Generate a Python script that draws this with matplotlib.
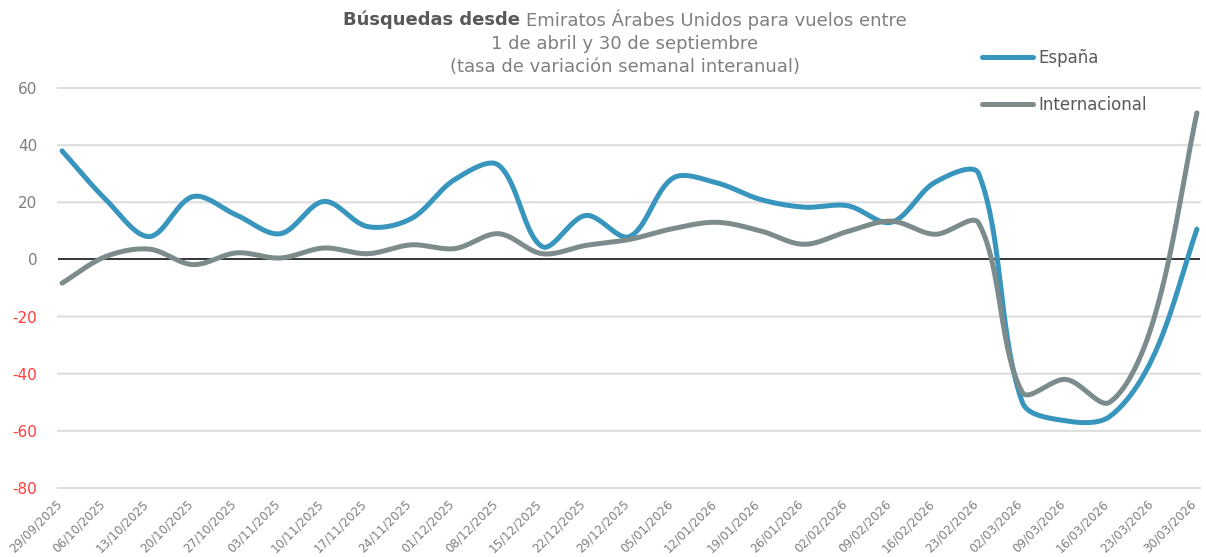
import matplotlib
matplotlib.use('Agg')
import matplotlib.pyplot as plt
from matplotlib.transforms import ScaledTranslation
import numpy as np

fechas = ['29/09/2025', '06/10/2025', '13/10/2025', '20/10/2025', '27/10/2025',
          '03/11/2025', '10/11/2025', '17/11/2025', '24/11/2025', '01/12/2025',
          '08/12/2025', '15/12/2025', '22/12/2025', '29/12/2025', '05/01/2026',
          '12/01/2026', '19/01/2026', '26/01/2026', '02/02/2026', '09/02/2026',
          '16/02/2026', '23/02/2026', '02/03/2026', '09/03/2026', '16/03/2026',
          '23/03/2026', '30/03/2026']

espana = [38, 21, 8, 22, 15.5, 9, 20.3, 11.5, 14.3, 28, 33,
          4.5, 15.4, 8, 28.5, 26.8, 21, 18.3, 18.8, 13, 27, 30,
          -50, -56.5, -55, -34, 10.6]

internacional = [-8.3, 1, 3.6, -1.8, 2.3, 0.5, 4, 2, 5.1, 3.8, 9,
                 2, 4.9, 7, 10.8, 13, 10, 5.3, 9.8, 13.4, 8.8, 12.7,
                 -46.5, -42, -50, -21.5, 51.3]

yticks = [60, 40, 20, 0, -20, -40, -60, -80]

azul = '#3795be'
gris = '#7c8c8c'


def suavizar(ys, sx=43.65, sy=2.857, n=40):
    # curva suavizada tipo Excel (bezier con tangentes ponderadas)
    P = np.column_stack([np.arange(len(ys)) * sx, np.array(ys, float) * sy])
    m = len(P)
    xs, yy = [], []
    for i in range(m - 1):
        p0 = P[max(i - 1, 0)]
        p1 = P[i]
        p2 = P[i + 1]
        p3 = P[min(i + 2, m - 1)]
        d01 = np.hypot(*(p1 - p0))
        d12 = np.hypot(*(p2 - p1))
        d23 = np.hypot(*(p3 - p2))
        c1 = p1 + (p2 - p0) * d12 / (d01 + d12) / 3
        c2 = p2 - (p3 - p1) * d12 / (d12 + d23) / 3
        t = np.linspace(0, 1, n)[:, None]
        b = (1 - t) ** 3 * p1 + 3 * (1 - t) ** 2 * t * c1 + 3 * (1 - t) * t ** 2 * c2 + t ** 3 * p2
        xs.extend(b[:, 0] / sx)
        yy.extend(b[:, 1] / sy)
    return np.array(xs), np.array(yy)


fig = plt.figure(figsize=(12.06, 5.57), dpi=100)
ax = fig.add_axes([0.0481, 0.1239, 0.9469, 0.7181])

x = np.arange(len(fechas))

for v in yticks:
    if v != 0:
        ax.axhline(v, color='#dcdcdc', lw=1.44, snap=False, clip_on=False, zorder=1)
ax.axhline(0, color='#262626', lw=1.3, zorder=2)

sx, sy = suavizar(espana)
ax.plot(sx, sy, color=azul, lw=3.6, solid_capstyle='round', label='España', zorder=3)
sx, sy = suavizar(internacional)
ax.plot(sx, sy, color=gris, lw=3.6, solid_capstyle='round', label='Internacional', zorder=4)

ax.set_xlim(-0.092, len(fechas) - 1 + 0.07)
ax.set_ylim(-80, 60)

ax.set_yticks(yticks)
ax.set_yticklabels([str(v) for v in yticks])
for lab, v in zip(ax.get_yticklabels(), yticks):
    lab.set_color('#ff3b3b' if v < 0 else '#7f7f7f')
ax.tick_params(axis='y', length=0, pad=15, labelsize=11)

ax.set_xticks(x)
ax.set_xticklabels(fechas, rotation=45, ha='right', rotation_mode='anchor',
                   color='#7f7f7f', fontsize=8.6)
ax.tick_params(axis='x', length=0, pad=7)
desplaza = ScaledTranslation(-7 / 100, 0, fig.dpi_scale_trans)
for lab in ax.get_xticklabels():
    lab.set_transform(lab.get_transform() + desplaza)

for s in ax.spines.values():
    s.set_visible(False)

leg = ax.legend(loc='upper left', bbox_to_anchor=(0.814, 0.912),
                bbox_transform=fig.transFigure, frameon=False, fontsize=12,
                handlelength=3.1, handletextpad=0.3, labelspacing=1.75,
                borderpad=0, borderaxespad=0)
for t in leg.get_texts():
    t.set_color('#595959')

# titulo con dos pesos en la primera linea
cx = 625 / 1206
fig.canvas.draw()
r = fig.canvas.get_renderer()
t1 = fig.text(0, 1 - 20 / 557, 'Búsquedas desde ', fontsize=13, fontweight='bold',
              color='#595959', va='center')
t2 = fig.text(0, 1 - 20 / 557, 'Emiratos Árabes Unidos para vuelos entre', fontsize=13,
              color='#7f7f7f', va='center')
w1 = t1.get_window_extent(r).width / 1206
w2 = t2.get_window_extent(r).width / 1206
x0 = cx - (w1 + w2) / 2
t1.set_x(x0)
t2.set_x(x0 + w1)
fig.text(cx, 1 - 44 / 557, '1 de abril y 30 de septiembre', fontsize=13,
         color='#7f7f7f', ha='center', va='center')
fig.text(cx, 1 - 67 / 557, '(tasa de variación semanal interanual)', fontsize=13,
         color='#7f7f7f', ha='center', va='center')

fig.savefig('out.png', dpi=100)
